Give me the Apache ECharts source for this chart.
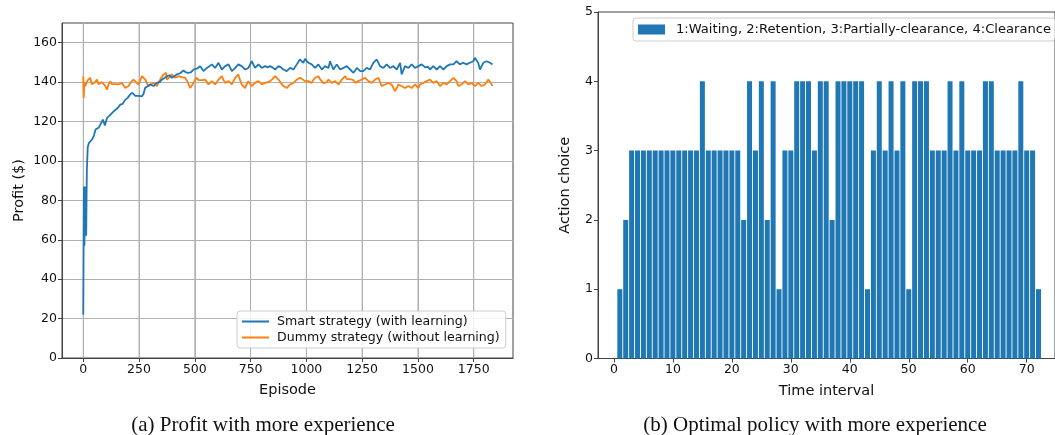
<!DOCTYPE html>
<html>
<head>
<meta charset="utf-8">
<script src="https://cdn.jsdelivr.net/npm/echarts@6/dist/echarts.min.js"></script>
<style>html,body{margin:0;padding:0;background:#fff}#c{width:1055px;height:435px}</style>
</head>
<body>
<div id="c"></div>
<script>
// ---- Left chart data: profit per episode ----
const smartEpisodes = [0,3,5,8,10,13,16,20,25,33,40,48,55,63,70,77,88,97,107,118,125,135,145,155,166,177,188,199,210,220,233,248,263,270,277,288,300,315,330,342,352,363,375,386,397,408,419,434,449,460,471,482,494,501,512,524,539,554,565,576,591,606,621,636,651,666,681,695,710,726,740,755,770,785,800,815,826,837,848,860,875,886,897,912,927,942,957,971,986,994,1009,1024,1039,1054,1069,1084,1099,1106,1121,1136,1151,1166,1181,1196,1211,1226,1241,1255,1270,1285,1300,1315,1330,1345,1360,1375,1390,1405,1420,1427,1442,1457,1472,1487,1502,1517,1532,1545,1554,1569,1584,1599,1614,1629,1644,1659,1673,1688,1703,1718,1733,1748,1755,1770,1778,1793,1808,1815,1823,1834];
const smartProfit = [22,87,57,58,87,62,95,107,109,110,111,113,116,115,117,116,121,118,122,123,124,125,126,127,128.6,129,131,132,133.7,134.6,133,133,132.8,134,137,137.9,138.8,138,139.6,140,141.3,142,143,143.5,142.2,143,143.9,144.5,145.9,145,144.7,145,146.4,146.4,147,148.1,145.6,147.2,148,149,147.2,149.8,146.4,148.1,149,145.6,147.2,149,148.1,146.4,147.2,150.6,147.2,149,147.2,148.1,147.5,148.1,147.5,146.4,148.1,147.5,146.4,145.6,147.2,146.4,149,151.5,149.8,151.8,149.8,149,147.2,149,146.4,148.1,147.2,150.6,146.4,149,146.4,147.2,148.1,146.4,144.7,147.2,145.6,145.6,147.2,146.4,149.8,151.5,148.1,147.2,149,147.2,148.1,146.4,149.8,143.9,148.1,147.2,149,147.2,148.1,149,147.5,147.8,146.4,148.1,146.4,148.1,146.4,148.1,149,149,150.6,149,149.8,149,149.8,150.6,152.3,149.8,146.4,149.8,150.6,151.5,149.8,149];
const dummyEpisodes = [0,2,5,9,20,31,38,46,54,61,68,76,84,91,99,106,114,121,128,136,147,158,173,188,203,214,225,237,248,256,263,270,278,285,293,304,315,323,330,338,345,352,360,371,375,386,397,405,412,420,427,442,457,468,479,486,494,501,509,516,524,535,546,554,561,569,576,584,591,599,606,614,621,629,636,643,651,658,666,673,681,688,695,703,710,718,725,733,740,748,755,762,770,778,785,793,800,808,815,826,837,848,860,867,875,886,897,905,912,920,927,935,942,950,957,964,971,982,994,1001,1009,1016,1024,1031,1039,1046,1054,1061,1069,1076,1084,1091,1099,1106,1114,1121,1129,1136,1144,1151,1159,1166,1174,1181,1188,1196,1203,1211,1218,1226,1233,1241,1248,1255,1263,1270,1278,1285,1293,1300,1308,1315,1323,1330,1338,1345,1353,1360,1367,1375,1382,1390,1397,1405,1412,1420,1427,1435,1442,1450,1457,1465,1472,1480,1487,1495,1502,1509,1517,1524,1532,1539,1546,1554,1561,1569,1576,1584,1591,1599,1606,1614,1621,1629,1636,1644,1651,1659,1666,1673,1681,1688,1696,1703,1711,1718,1726,1733,1741,1748,1755,1762,1770,1778,1785,1793,1800,1808,1815,1820,1826,1834];
const dummyProfit = [143,132,140,138,141,142.2,139,138,140,141.3,139,138.8,140,140.5,138,136.2,139,140.5,139,138,139,138.8,139.6,137,138,140,141.3,140,138.8,141,143,142,141.3,139.5,138,139,139.6,139,138,140,141.3,142,143.9,144.7,141.3,142.5,143.9,143,142.2,142.5,143,142.5,142.2,140,137,138,139.6,141,142.2,141,140.5,141,141.3,140,138.8,139.5,140.5,139.5,138.8,140,141.3,142,143,141,139.6,140,140.5,139.5,138.8,140.5,142.2,143,143.9,141,138.8,138,137,139,140.5,139.5,138,139,139.6,140,140.5,139.5,138.8,139,139.6,140,140.5,141.5,143,142,141.3,139.5,138,137.5,137,138,138.8,139,139.6,140.5,141.3,141.8,142.2,141.5,140.5,141.3,140.5,140,139.6,141,142.2,142.5,143,141.5,140.5,139.5,138.8,140,141.3,140.5,139.6,140,140.5,139.5,138.8,140,141.3,142,143,141.5,140.5,141.5,142.2,141,139.6,140,140.5,141,141.3,141.8,142.2,141.3,140.5,140,139.6,140.5,141.3,141.8,142.2,140,138,138.5,138.8,139.2,139.6,139.2,138.8,137,135.4,137,138.8,138.5,138,137.5,137,137.5,138,137.5,137,138,138.8,138,137,138.8,138.8,139.6,139.6,140.5,141,141.3,140.5,139.6,140,140.5,139.5,138,138.8,139.6,139.2,138.8,139.5,140.5,141.5,142.2,143,140.5,138,138.5,138.8,139.5,140.5,139.5,138.8,139.2,139.6,138.8,138,139,139.6,139,138,138.5,138.8,140,141.3,140.5,139.6,138];
const episodeTicks = [0,250,500,750,1000,1250,1500,1750];
const profitTicks = [0,20,40,60,80,100,120,140,160];

// ---- Right chart data: action chosen per time interval ----
const timeSteps = [1,2,3,4,5,6,7,8,9,10,11,12,13,14,15,16,17,18,19,20,21,22,23,24,25,26,27,28,29,30,31,32,33,34,35,36,37,38,39,40,41,42,43,44,45,46,47,48,49,50,51,52,53,54,55,56,57,58,59,60,61,62,63,64,65,66,67,68,69,70,71,72];
const actions = [1,2,3,3,3,3,3,3,3,3,3,3,3,3,4,3,3,3,3,3,3,2,4,3,4,2,4,1,3,3,4,4,4,3,4,4,2,4,4,4,4,4,1,3,4,3,4,3,4,1,4,4,4,3,3,3,4,3,4,3,3,3,4,4,3,3,3,3,4,3,3,1];
const timeTicks = [0,10,20,30,40,50,60,70];

const FONT = 'DejaVu Sans';
const spine = '#444';
const txt = '#111';
const gridGray = '#b0b0b0';
const PROFIT_MIN = 0, PROFIT_MAX = 170;

const SMART = 'Smart strategy (with learning)';
const DUMMY = 'Dummy strategy (without learning)';
const ACTION = '1:Waiting, 2:Retention, 3:Partially-clearance, 4:Clearance';
const VGRID = 'Episode grid';

const chart = echarts.init(document.getElementById('c'), null, {renderer: 'canvas'});

const zip = (a, b) => a.map((v, i) => [v, b[i]]);
const plain = v => String(v);

chart.setOption({
  animation: false,
  backgroundColor: '#fff',
  textStyle: {fontFamily: FONT},
  title: [
    {text: '(a) Profit with more experience', left: 258, top: 410, textAlign: 'center',
     textStyle: {fontFamily: 'Liberation Serif', fontSize: 21, fontWeight: 'normal', color: '#111'}},
    {text: '(b) Optimal policy with more experience', left: 810, top: 410, textAlign: 'center',
     textStyle: {fontFamily: 'Liberation Serif', fontSize: 21, fontWeight: 'normal', color: '#111'}}
  ],
  grid: [
    {left: 62, top: 23, width: 451, height: 335, show: true, backgroundColor: 'transparent', borderColor: spine, borderWidth: 1, containLabel: false},
    {left: 598, top: 12, width: 460, height: 346.5, show: true, backgroundColor: 'transparent', borderColor: spine, borderWidth: 1, containLabel: false}
  ],
  legend: [
    {
      data: [SMART, DUMMY], selected: {[VGRID]: true},
      orient: 'vertical', left: 237, top: 311, z: 10,
      icon: 'rect', itemWidth: 27, itemHeight: 2, itemGap: 3,
      padding: [4, 6, 4, 5],
      borderColor: '#ccc', borderWidth: 1, borderRadius: 3, backgroundColor: 'rgba(255,255,255,0.85)',
      textStyle: {fontFamily: FONT, fontSize: 12.6, color: txt, padding: [0, 0, 0, 3]}
    },
    {
      data: [ACTION], selected: {[VGRID]: true},
      left: 633, top: 18, icon: 'rect', z: 10,
      itemWidth: 27, itemHeight: 10, padding: [5, 4, 5, 5],
      borderColor: '#ccc', borderWidth: 1, borderRadius: 3, backgroundColor: 'rgba(255,255,255,0.85)',
      textStyle: {fontFamily: FONT, fontSize: 13.1, color: txt, padding: [0, 0, 0, 6]}
    }
  ],
  xAxis: [
    {
      gridIndex: 0, type: 'value', min: -95.3, max: 1926,
      name: 'Episode', nameLocation: 'middle', nameGap: 25,
      nameTextStyle: {fontFamily: FONT, fontSize: 14.5, color: txt},
      axisLine: {show: true, onZero: false, lineStyle: {color: spine}},
      axisTick: {show: true, inside: false, length: 4, lineStyle: {color: spine}, customValues: episodeTicks},
      axisLabel: {customValues: episodeTicks, formatter: plain, fontFamily: FONT, fontSize: 12.5, color: txt, margin: 5},
      splitLine: {show: true, lineStyle: {color: gridGray, width: 1}}
    },
    {
      gridIndex: 1, type: 'value', min: -2.7, max: 74.8,
      name: 'Time interval', nameLocation: 'middle', nameGap: 25,
      nameTextStyle: {fontFamily: FONT, fontSize: 14.5, color: txt},
      axisLine: {show: true, onZero: false, lineStyle: {color: spine}},
      axisTick: {show: true, inside: false, length: 4, lineStyle: {color: spine}, customValues: timeTicks},
      axisLabel: {customValues: timeTicks, formatter: plain, fontFamily: FONT, fontSize: 12.5, color: txt, margin: 5},
      splitLine: {show: false}
    }
  ],
  yAxis: [
    {
      gridIndex: 0, type: 'value', min: PROFIT_MIN, max: PROFIT_MAX,
      name: 'Profit ($)', nameLocation: 'middle', nameGap: 35, nameRotate: 90,
      nameTextStyle: {fontFamily: FONT, fontSize: 14.5, color: txt},
      axisLine: {show: true, onZero: false, lineStyle: {color: spine}},
      axisTick: {show: true, inside: false, length: 4, lineStyle: {color: spine}, customValues: profitTicks},
      axisLabel: {customValues: profitTicks, formatter: plain, fontFamily: FONT, fontSize: 12.5, color: txt, margin: 5},
      splitLine: {show: true, lineStyle: {color: gridGray, width: 1}}
    },
    {
      gridIndex: 1, type: 'value', min: 0, max: 5, interval: 1,
      name: 'Action choice', nameLocation: 'middle', nameGap: 25, nameRotate: 90,
      nameTextStyle: {fontFamily: FONT, fontSize: 14.5, color: txt},
      axisLine: {show: true, onZero: false, lineStyle: {color: spine}},
      axisTick: {show: true, inside: false, length: 4, lineStyle: {color: spine}},
      axisLabel: {fontFamily: FONT, fontSize: 12.5, color: txt, margin: 5},
      splitLine: {show: false}
    }
  ],
  series: [
    {
      // vertical grid lines of the left panel at the episode ticks, placed through the axis scale
      name: VGRID, type: 'custom', coordinateSystem: 'cartesian2d',
      xAxisIndex: 0, yAxisIndex: 0, z: 2, silent: true, clip: false,
      data: episodeTicks.map(v => [v, PROFIT_MIN]),
      renderItem: (params, api) => {
        const x = api.value(0);
        const p0 = api.coord([x, PROFIT_MIN]);
        const p1 = api.coord([x, PROFIT_MAX]);
        return {
          type: 'line',
          shape: {x1: p0[0], y1: p0[1], x2: p1[0], y2: p1[1]},
          style: {stroke: gridGray, lineWidth: 1, fill: null}
        };
      }
    },
    {
      name: DUMMY, type: 'line', xAxisIndex: 0, yAxisIndex: 0,
      data: zip(dummyEpisodes, dummyProfit), symbol: 'none', showSymbol: false,
      lineStyle: {color: '#ff7f0e', width: 1.8}, itemStyle: {color: '#ff7f0e'}, z: 3
    },
    {
      name: SMART, type: 'line', xAxisIndex: 0, yAxisIndex: 0,
      data: zip(smartEpisodes, smartProfit), symbol: 'none', showSymbol: false,
      lineStyle: {color: '#1f77b4', width: 1.8}, itemStyle: {color: '#1f77b4'}, z: 4
    },
    {
      name: ACTION, type: 'bar',
      xAxisIndex: 1, yAxisIndex: 1,
      data: zip(timeSteps, actions), barWidth: 5,
      itemStyle: {color: '#1f77b4'}
    }
  ]
});
</script>
</body>
</html>
